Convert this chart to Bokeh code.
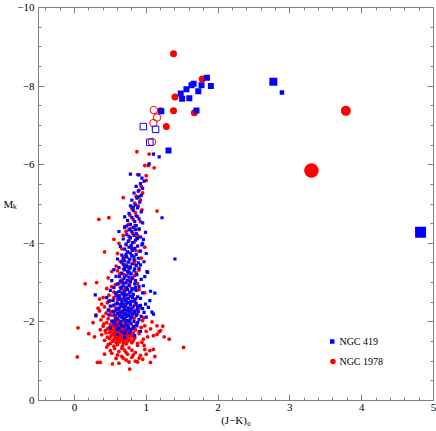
from bokeh.plotting import figure
from bokeh.models import Range1d, LinearAxis, SingleIntervalTicker, CustomJSTickFormatter
from bokeh.core.properties import value
from bokeh.embed import file_html
from bokeh.resources import INLINE

# ---------------- data: (J-K)_0, M_K ----------------
# NGC 419: small points (RGB / clump)
ngc419_rgb = [
    (1.10, -6.27), (1.18, -6.20), (1.04, -6.02), (0.78, -5.76), (0.90, -5.74), (0.94, -5.66),
    (0.97, -5.58), (0.92, -5.52), (0.86, -5.45), (0.95, -5.40), (0.89, -5.33), (0.83, -5.28),
    (0.93, -5.22), (0.87, -5.15), (0.80, -5.10), (0.91, -5.05), (0.85, -4.98), (0.78, -4.95),
    (0.88, -4.90), (0.82, -4.84), (0.93, -4.80), (0.76, -4.76), (1.22, -4.65), (0.86, -4.70),
    (0.80, -4.66), (0.90, -4.62), (0.74, -4.58), (0.84, -4.55), (0.95, -4.52), (0.70, -4.67),
    (0.78, -4.48), (0.86, -4.45), (0.70, -4.42), (0.82, -4.40), (0.90, -4.37), (0.76, -4.34),
    (0.99, -4.28), (0.80, -4.30), (0.86, -4.25), (0.73, -4.22), (0.83, -4.20), (0.92, -4.16),
    (0.78, -4.14), (0.68, -4.11), (0.85, -4.08), (0.75, -4.05), (0.81, -4.02), (0.95, -4.00),
    (0.72, -3.98), (0.79, -3.95), (0.88, -3.93), (0.76, -3.90), (0.84, -3.87), (0.70, -3.85),
    (0.81, -3.82), (0.92, -3.80), (0.74, -3.78), (0.78, -3.75), (0.86, -3.72), (0.66, -3.70),
    (0.80, -3.68), (0.73, -3.65), (0.89, -3.62), (0.77, -3.60), (1.40, -3.60), (0.83, -3.57),
    (0.70, -3.55), (0.97, -3.53), (0.75, -3.52), (0.94, -3.96),
    (0.80, -3.48), (0.68, -3.46), (0.86, -3.44), (0.73, -3.42), (0.78, -3.40), (0.62, -3.38),
    (0.90, -3.36), (0.76, -3.34), (0.70, -3.32), (0.83, -3.30), (0.74, -3.28), (1.02, -3.26),
    (0.66, -3.24), (0.79, -3.22), (0.87, -3.20), (0.72, -3.18), (0.58, -3.16), (0.76, -3.14),
    (0.81, -3.12), (0.69, -3.10), (0.93, -3.08), (0.74, -3.06), (0.64, -3.04), (0.78, -3.02),
    (1.01, -3.28),
    (0.71, -2.99), (0.84, -2.97), (0.60, -2.96), (0.76, -2.94), (0.68, -2.92), (0.90, -2.90),
    (0.73, -2.88), (0.55, -2.87), (0.80, -2.85), (0.65, -2.84), (0.74, -2.82), (0.86, -2.80),
    (0.70, -2.78), (0.62, -2.77), (0.77, -2.75), (0.95, -2.74), (0.67, -2.72), (0.82, -2.70),
    (0.72, -2.69), (0.58, -2.67), (0.78, -2.65), (0.88, -2.64), (0.69, -2.62), (0.75, -2.60),
    (0.64, -2.58), (0.84, -2.57), (0.71, -2.55), (1.05, -2.54), (0.79, -2.52), (0.66, -2.51),
    (0.48, -2.53), (0.29, -2.69), (1.12, -2.73), (1.06, -2.78),
    (0.73, -2.49), (0.60, -2.48), (0.86, -2.47), (0.68, -2.46), (0.78, -2.44), (0.55, -2.43),
    (0.92, -2.42), (0.71, -2.41), (0.65, -2.39), (0.82, -2.38), (0.75, -2.36), (0.62, -2.35),
    (0.88, -2.34), (0.70, -2.32), (0.79, -2.31), (0.58, -2.30), (0.74, -2.29), (0.84, -2.27),
    (0.67, -2.26), (0.77, -2.25), (0.97, -2.24), (0.63, -2.23), (0.72, -2.22), (0.81, -2.20),
    (0.69, -2.19), (0.76, -2.18), (0.56, -2.17), (0.86, -2.16), (0.73, -2.14), (0.66, -2.13),
    (0.80, -2.12), (1.10, -2.20), (0.70, -2.10), (0.60, -2.09), (0.78, -2.08), (0.90, -2.06),
    (0.68, -2.05), (0.74, -2.03), (0.52, -2.02), (0.83, -2.01), (0.30, -2.15), (1.03, -2.37),
    (1.08, -2.25),
    (0.71, -1.98), (0.64, -1.96), (0.79, -1.95), (0.58, -1.92), (0.87, -1.90), (0.69, -1.88),
    (0.75, -1.86), (0.62, -1.84), (0.81, -1.82), (0.50, -1.85), (0.72, -1.78), (0.66, -1.75),
    (0.92, -1.76), (0.77, -1.72), (0.60, -1.68), (0.84, -1.65), (0.70, -1.60),
]
ngc419_rgb_more = [
    (0.62, -4.30), (0.96, -4.10), (0.64, -3.92), (1.00, -3.74), (0.60, -3.60), (0.92, -3.45),
    (0.55, -3.33), (0.98, -3.15), (0.52, -3.05), (0.67, -3.00), (0.85, -3.05), (0.96, -2.92),
    (0.50, -2.80), (0.58, -2.74), (0.92, -2.60), (0.45, -2.62), (0.54, -2.55), (0.63, -2.66),
    (0.81, -2.62), (0.99, -2.45), (0.50, -2.40), (0.58, -2.46), (0.64, -2.44), (0.76, -2.50),
    (0.84, -2.52), (0.95, -2.34), (0.47, -2.30), (0.54, -2.27), (0.61, -2.33), (0.89, -2.27),
    (1.00, -2.12), (0.48, -2.18), (0.63, -2.15), (0.84, -2.22), (0.93, -2.14), (0.57, -2.05),
    (0.65, -2.00), (0.77, -2.02), (0.88, -1.98), (0.55, -1.97), (0.74, -1.92), (0.66, -1.90),
    (0.83, -1.88), (0.60, -1.80), (0.78, -1.80), (0.70, -1.70), (0.88, -2.40), (0.72, -2.56),
    (0.66, -2.88), (0.79, -2.78), (0.70, -3.38), (0.84, -3.35), (0.66, -3.52), (0.72, -3.72),
    (0.83, -3.65), (0.76, -4.18), (0.88, -4.12), (0.73, -4.44), (0.85, -4.35), (0.82, -4.92),
    (0.90, -5.18), (0.61, -2.60), (0.69, -2.70), (0.85, -2.88), (0.63, -3.15), (0.77, -3.25),
    (0.68, -3.62), (0.80, -3.86), (0.89, -3.50), (0.60, -2.22), (0.70, -2.38), (0.80, -2.35),
]

# NGC 1978: small points (RGB / clump)
ngc1978_rgb = [
    (0.87, -6.33), (1.04, -6.27), (1.11, -5.92), (0.98, -5.98), (1.03, -5.98), (0.88, -5.75),
    (1.00, -5.72), (1.00, -5.60), (0.68, -5.16), (0.34, -4.61), (0.48, -4.65), (1.15, -4.82),
    (0.93, -5.45), (0.90, -5.35), (0.95, -5.28), (0.86, -5.20), (0.92, -5.10), (0.84, -5.02),
    (0.89, -4.95), (0.80, -4.88), (0.94, -4.85), (0.85, -4.78), (0.77, -4.72), (0.88, -4.68),
    (0.82, -4.60), (0.92, -4.55),
    (0.75, -4.48), (0.84, -4.44), (0.78, -4.38), (0.90, -4.35), (0.72, -4.30), (0.81, -4.25),
    (0.68, -4.20), (0.87, -4.15), (0.55, -4.10), (0.76, -4.08), (0.83, -4.02), (0.42, -3.78),
    (0.72, -3.96), (0.79, -3.92), (0.98, -3.90), (0.66, -3.86), (0.85, -3.82), (0.74, -3.78),
    (0.60, -3.74), (0.80, -3.70), (0.70, -3.66), (0.93, -3.62), (0.77, -3.58), (0.64, -3.54),
    (0.83, -3.48), (0.72, -3.45), (0.58, -3.42), (0.78, -3.38), (0.68, -3.35), (0.90, -3.32),
    (0.52, -3.28), (0.75, -3.25), (0.63, -3.22), (0.84, -3.18), (0.70, -3.15), (0.47, -3.12),
    (0.80, -3.10), (0.66, -3.06), (0.15, -2.97), (0.31, -3.00), (0.73, -3.02), (0.88, -2.98),
    (0.57, -2.95), (0.77, -2.92), (0.64, -2.88), (0.45, -2.85), (0.82, -2.83), (0.70, -2.80),
    (0.55, -2.76), (0.98, -2.74), (0.75, -2.70), (0.62, -2.67), (0.40, -2.62), (0.86, -2.60),
    (0.68, -2.57), (0.50, -2.54), (0.35, -2.58), (0.79, -2.52),
    (0.46, -2.49), (0.60, -2.47), (0.73, -2.46), (0.38, -2.45), (0.84, -2.43), (0.54, -2.41),
    (0.67, -2.40), (0.42, -2.38), (0.92, -2.36), (0.58, -2.35), (0.76, -2.33), (0.48, -2.31),
    (0.63, -2.30), (0.35, -2.28), (0.81, -2.27), (0.55, -2.25), (0.70, -2.24), (0.44, -2.22),
    (0.88, -2.20), (0.60, -2.19), (0.52, -2.17), (0.74, -2.16), (0.40, -2.14), (0.66, -2.12),
    (0.57, -2.11), (0.83, -2.09), (0.47, -2.08), (0.71, -2.06), (0.62, -2.04), (0.95, -2.03),
    (0.53, -2.02), (0.30, -2.18),
    (0.64, -1.99), (0.45, -1.98), (0.78, -1.97), (0.57, -1.96), (0.70, -1.95), (0.86, -1.94),
    (0.50, -1.93), (0.66, -1.92), (0.60, -1.91), (0.74, -1.90), (0.40, -1.89), (0.82, -1.88),
    (0.55, -1.88), (0.69, -1.87), (0.62, -1.86), (0.93, -1.86), (0.48, -1.85), (0.76, -1.84),
    (0.58, -1.83), (0.67, -1.82), (0.05, -1.85), (0.72, -1.81), (0.52, -1.80), (0.85, -1.80),
    (0.63, -1.79), (0.43, -1.78), (0.70, -1.77), (0.78, -1.77), (0.56, -1.76), (0.66, -1.75),
    (1.00, -1.76), (0.60, -1.74), (0.74, -1.73), (0.49, -1.73), (0.82, -1.72), (0.68, -1.71),
    (0.54, -1.70), (0.64, -1.69), (0.90, -1.70), (0.72, -1.68), (0.38, -1.67), (0.58, -1.67),
    (0.79, -1.66), (0.67, -1.65), (0.51, -1.64), (0.62, -1.63), (1.10, -1.65), (0.75, -1.62),
    (0.46, -1.61), (0.70, -1.60), (0.84, -1.59), (0.56, -1.58), (0.65, -1.57), (0.96, -1.56),
    (0.60, -1.55), (0.77, -1.54), (0.42, -1.53), (0.69, -1.52), (0.53, -1.51), (0.28, -1.62),
    (1.23, -1.89), (1.18, -1.75), (1.15, -1.68), (1.06, -1.82),
    (0.63, -1.49), (0.80, -1.47), (0.50, -1.45), (0.72, -1.44), (1.52, -1.35), (0.60, -1.42),
    (0.88, -1.40), (0.67, -1.38), (0.45, -1.36), (1.32, -1.56), (0.76, -1.34), (0.56, -1.32),
    (0.98, -1.30), (0.70, -1.28), (0.62, -1.25), (0.85, -1.22), (1.05, -1.27), (0.52, -1.20),
    (0.74, -1.18), (0.92, -1.15), (0.66, -1.12), (0.04, -1.11), (0.80, -1.10), (1.12, -1.12),
    (0.58, -1.07), (0.95, -1.05), (0.72, -1.03), (0.32, -0.97), (0.36, -0.97), (0.53, -0.93),
    (0.85, -1.00), (1.06, -0.97), (0.77, -0.80), (0.88, -0.98),
]
ngc1978_rgb_more = [
    (0.70, -4.40), (0.88, -4.20), (0.62, -4.00), (0.90, -3.80), (0.68, -3.60), (0.84, -3.55),
    (0.74, -3.40), (0.60, -3.30), (0.86, -3.25), (0.69, -3.20), (0.78, -3.05), (0.62, -2.98),
    (0.52, -2.90), (0.71, -2.86), (0.90, -2.82), (0.58, -2.72), (0.66, -2.75), (0.80, -2.66),
    (0.48, -2.68), (0.72, -2.60), (0.60, -2.56), (0.55, -2.62),
    (0.59, -2.00), (0.73, -2.00), (0.61, -1.95), (0.53, -1.90), (0.71, -1.90), (0.64, -1.87),
    (0.46, -1.82), (0.61, -1.80), (0.69, -1.80), (0.56, -1.79), (0.75, -1.78), (0.64, -1.76),
    (0.50, -1.76), (0.71, -1.74), (0.58, -1.72), (0.66, -1.72), (0.78, -1.70), (0.61, -1.69),
    (0.53, -1.67), (0.69, -1.67), (0.74, -1.65), (0.57, -1.64), (0.64, -1.62), (0.80, -1.62),
    (0.49, -1.58), (0.60, -1.60), (0.72, -1.58), (0.67, -1.55), (0.55, -1.55), (0.82, -1.52),
    (0.63, -1.52), (0.74, -1.50), (0.58, -1.48), (0.68, -1.46), (0.88, -1.45), (0.44, -1.72),
    (0.36, -1.80), (0.41, -1.95), (0.98, -1.90), (1.02, -1.62), (0.94, -1.48), (0.90, -1.75),
    (0.96, -2.10), (1.08, -2.00), (1.15, -1.90), (1.20, -1.78), (1.25, -1.62), (0.33, -2.35),
    (0.37, -2.05), (0.26, -1.98), (0.20, -1.70), (0.47, -1.42), (0.55, -1.38), (0.66, -1.33),
    (0.80, -1.28), (0.72, -1.22), (0.60, -1.16), (0.82, -1.16), (0.68, -1.08), (0.90, -1.08),
    (0.76, -0.98), (0.62, -0.95), (1.00, -1.18), (1.10, -1.30), (0.97, -1.40), (0.50, -1.27),
    (0.42, -1.18), (0.65, -2.22), (0.78, -2.14), (0.50, -2.26), (0.69, -2.32), (0.86, -2.30),
]

# NGC 419 bright (AGB / carbon) stars, filled squares, with symbol size
ngc419_agb_jk = [1.845, 1.90, 1.77, 1.66, 1.63, 1.56, 1.725, 1.48, 1.50, 1.60, 1.21, 1.70, 1.31, 2.77, 2.89, 4.82]
ngc419_agb_mk = [-8.21, -8.00, -8.02, -8.06, -8.02, -7.92, -7.87, -7.81, -7.68, -7.69, -7.36, -7.38, -6.36, -8.11, -7.84, -4.28]
ngc419_agb_size = [6, 6, 6, 6, 6, 6, 6, 6, 6, 6, 6, 6, 6, 8, 4.5, 11]
# NGC 419 open squares
ngc419_open_jk = [0.96, 1.13, 1.05]
ngc419_open_mk = [-6.97, -6.90, -6.57]

# NGC 1978 bright stars, filled circles, with symbol size
ngc1978_agb_jk = [1.38, 1.78, 1.40, 1.38, 1.67, 1.28, 1.20, 3.78, 3.30]
ngc1978_agb_mk = [-8.82, -8.18, -7.72, -7.37, -7.32, -6.97, -7.37, -7.37, -5.85]
ngc1978_agb_size = [7, 7, 7, 7, 7, 7, 7, 10, 14.5]
# NGC 1978 open circles
ngc1978_open_jk = [1.106, 1.15, 1.10, 1.08]
ngc1978_open_mk = [-7.39, -7.20, -7.06, -6.58]

legend_labels = ["NGC 419", "NGC 1978"]

# ---------------- styling ----------------
FONT = "Liberation Serif"
AX = "#808080"
BLUE = "#0000ff"
RED = "#ff0000"

p = figure(width=436, height=431, output_backend="svg", toolbar_location=None,
           x_range=Range1d(-0.5, 5), y_range=Range1d(0, -10),
           min_border_left=36, min_border_right=3, min_border_top=7, min_border_bottom=31,
           background_fill_color="white", border_fill_color="white")
p.xgrid.grid_line_color = None
p.ygrid.grid_line_color = None
p.outline_line_color = AX

yfmt = CustomJSTickFormatter(code="return tick == 0 ? '0' : '\u2212' + Math.abs(tick).toFixed(0);")


def style(ax):
    ax.axis_line_color = AX
    ax.major_tick_line_color = AX
    ax.minor_tick_line_color = AX
    ax.major_tick_in = 6
    ax.major_tick_out = 0
    ax.minor_tick_in = 3
    ax.minor_tick_out = 0
    ax.major_label_text_font = FONT
    ax.major_label_text_font_size = "11px"
    ax.major_label_text_color = "black"
    ax.axis_label_text_font = FONT
    ax.axis_label_text_font_size = "11px"
    ax.axis_label_text_font_style = "normal"
    ax.axis_label_text_color = "black"


xa = p.xaxis[0]
xa.ticker = SingleIntervalTicker(interval=1, num_minor_ticks=5)
style(xa)
xa.major_label_standoff = 3
xa.axis_label = "(J\u2212K)\u2080"
xa.axis_label_standoff = 0

ya = p.yaxis[0]
ya.ticker = SingleIntervalTicker(interval=2, num_minor_ticks=4)
ya.formatter = yfmt
style(ya)
ya.major_label_standoff = 4
ya.axis_label = "M\u2096"
ya.axis_label_orientation = "horizontal"
ya.axis_label_standoff = -3

blank = CustomJSTickFormatter(code="return '';")
top = LinearAxis(ticker=SingleIntervalTicker(interval=1, num_minor_ticks=5), formatter=blank)
style(top)
top.major_label_standoff = 0
right = LinearAxis(ticker=SingleIntervalTicker(interval=2, num_minor_ticks=4), formatter=blank)
style(right)
right.major_label_standoff = 0
p.add_layout(top, "above")
p.add_layout(right, "right")

# ---------------- glyphs ----------------
red_pts = ngc1978_rgb + ngc1978_rgb_more
blue_pts = ngc419_rgb + ngc419_rgb_more
r_jk = [a for a, b in red_pts]
r_mk = [b for a, b in red_pts]
b_jk = [a for a, b in blue_pts]
b_mk = [b for a, b in blue_pts]

p.scatter(r_jk, r_mk, marker="circle", size=3.8, fill_color=RED, line_color=None)
p.scatter(b_jk, b_mk, marker="square", size=3.2, fill_color=BLUE, line_color=None)

p.scatter(ngc1978_open_jk, ngc1978_open_mk, marker="circle", size=7.5,
          fill_color=None, line_color=RED, line_width=1)
p.scatter(ngc419_open_jk, ngc419_open_mk, marker="square", size=6.5,
          fill_color=None, line_color=BLUE, line_width=1)
p.scatter(ngc1978_agb_jk, ngc1978_agb_mk, marker="circle", size=ngc1978_agb_size,
          fill_color=RED, line_color=None)
p.scatter(ngc419_agb_jk, ngc419_agb_mk, marker="square", size=ngc419_agb_size,
          fill_color=BLUE, line_color=None)

# legend
leg_x = [3.59, 3.60]
leg_y = [-1.50, -0.99]
p.scatter([leg_x[0]], [leg_y[0]], marker="square", size=4.5, fill_color=BLUE, line_color=None)
p.scatter([leg_x[1]], [leg_y[1]], marker="circle", size=5.5, fill_color=RED, line_color=None)
p.text([3.69, 3.69], leg_y, text=legend_labels, text_font=value(FONT),
       text_font_size="10px", text_baseline="middle", text_align="left", text_color="black")

open("out.html", "w").write(file_html(p, INLINE))
